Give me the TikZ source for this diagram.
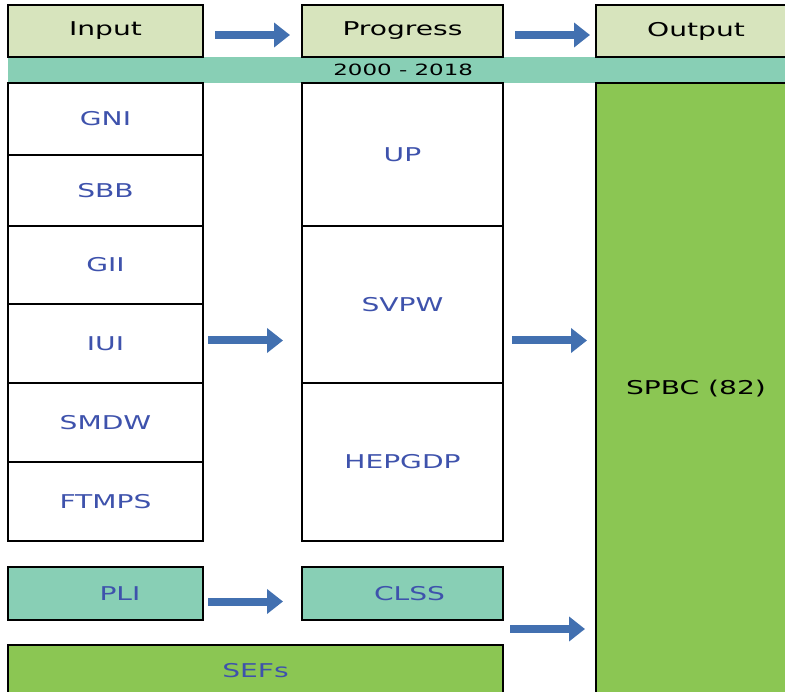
\documentclass[tikz,border=0pt]{standalone}
\usepackage{fontspec}
\setmainfont{DejaVu Sans}[FakeStretch=1.48]
\usepackage{tikz}
\usetikzlibrary{positioning, arrows.meta}
\definecolor{headgreen}{RGB}{215,228,189}
\definecolor{bandteal}{RGB}{136,207,181}
\definecolor{outgreen}{RGB}{139,198,83}
\definecolor{labelblue}{RGB}{62,82,172}
\definecolor{arrowblue}{RGB}{66,112,176}

\begin{document}
\begin{tikzpicture}[
        x=1pt, y=-1pt,
        font=\fontsize{19}{21}\selectfont,
        box/.style={draw, line width=1.6pt, anchor=north west, inner sep=0pt, outer sep=0pt, fill=#1},
        box/.default=white,
        head/.style={box=headgreen, minimum height=52pt},
        incell/.style={box, text=labelblue, minimum width=195pt, minimum height=#1},
        progcell/.style={box, text=labelblue, minimum width=201pt, minimum height=#1},
        bigarrow/.style={line width=8pt, arrowblue, -{Triangle[length=16pt, width=24pt]}},
    ]
    \useasboundingbox (0,0) rectangle (785,692);

    % ---- Period band ----
    \node[anchor=north west, fill=bandteal, minimum width=790pt, minimum height=26pt, inner sep=0pt,
          font=\fontsize{15.5}{17}\selectfont] (period) at (8,57) {2000 - 2018};

    % ---- Headers ----
    \node[head, minimum width=195pt] (inhead) at (8,5) {Input};
    \node[head, minimum width=201pt] (proghead) at (302,5) {Progress};
    \node[head, minimum width=200pt] (outhead) at (596,5) {Output};

    % ---- Input column ----
    \node[incell=72pt] (gni) at (8,83) {GNI};
    \node[incell=71pt, below=0pt of gni] (sbb) {SBB};
    \node[incell=78pt, below=0pt of sbb] (gii) {GII};
    \node[incell=79pt, below=0pt of gii] (iui) {IUI};
    \node[incell=79pt, below=0pt of iui] (smdw) {SMDW};
    \node[incell=79pt, below=0pt of smdw] (ftmps) {FTMPS};

    % ---- Progress column ----
    \node[progcell=143pt] (up) at (302,83) {UP};
    \node[progcell=157pt, below=0pt of up] (svpw) {SVPW};
    \node[progcell=158pt, below=0pt of svpw] (hepgdp) {HEPGDP};

    % ---- Output column ----
    \node[box=outgreen, minimum width=200pt, minimum height=612pt] (spbc) at (596,83) {SPBC (82)};

    % ---- Lower rows ----
    \node[box=bandteal, text=labelblue, minimum width=195pt, minimum height=53pt] (pli) at (8,567) {\hspace*{29pt}PLI};
    \node[box=bandteal, text=labelblue, minimum width=201pt, minimum height=53pt] (clss) at (302,567) {\hspace*{14pt}CLSS};
    \node[box=outgreen, text=labelblue, minimum width=495pt, minimum height=52pt] (sefs) at (8,645) {SEFs};

    % ---- Arrows ----
    \draw[bigarrow, shorten <=12pt, shorten >=12pt] ([yshift=-4pt]inhead.east) -- ([yshift=-4pt]proghead.west);
    \draw[bigarrow, shorten <=12pt, shorten >=6pt] ([yshift=-4pt]proghead.east) -- ([yshift=-4pt]outhead.west);
    \coordinate (midrow) at ([yshift=3pt]iui.east);
    \draw[bigarrow, shorten <=5pt, shorten >=19pt] (midrow) -- (midrow -| svpw.west);
    \draw[bigarrow, shorten <=9pt, shorten >=9pt] (midrow -| svpw.east) -- (midrow -| spbc.west);
    \draw[bigarrow, shorten <=5pt, shorten >=19pt] ([yshift=-8pt]pli.east) -- ([yshift=-8pt]clss.west);
    \coordinate (lowrow) at ([yshift=-9pt]clss.south east);
    \draw[bigarrow, shorten <=7pt, shorten >=11pt] (lowrow) -- (lowrow -| spbc.west);
\end{tikzpicture}
\end{document}
